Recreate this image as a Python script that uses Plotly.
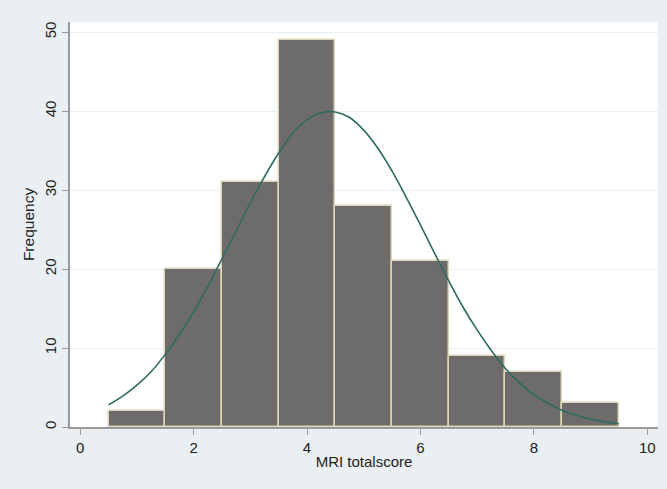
import plotly.graph_objects as go

# Histogram bins (centers) and frequencies
bin_centers = [1, 2, 3, 4, 5, 6, 7, 8, 9]
frequencies = [2, 20, 31, 49, 28, 21, 9, 7, 3]

# Normal density overlay
curve_x = [0.5, 0.75, 1.0, 1.25, 1.5, 1.75, 2.0, 2.25, 2.5, 2.75, 3.0, 3.25, 3.5, 3.75,
           4.0, 4.25, 4.5, 4.75, 5.0, 5.25, 5.5, 5.75, 6.0, 6.25, 6.5, 6.75, 7.0, 7.25,
           7.5, 7.75, 8.0, 8.25, 8.5, 8.75, 9.0, 9.25, 9.5]
curve_y = [2.8, 3.9, 5.3, 7.0, 9.2, 11.7, 14.6, 17.8, 21.3, 24.8, 28.4, 31.7, 34.7, 37.2,
           38.9, 39.8, 39.9, 39.2, 37.6, 35.3, 32.4, 29.1, 25.6, 22.0, 18.5, 15.2, 12.3, 9.7,
           7.4, 5.6, 4.1, 3.0, 2.1, 1.5, 1.0, 0.65, 0.42]

x_ticks = [0, 2, 4, 6, 8, 10]
y_ticks = [0, 10, 20, 30, 40, 50]

fig = go.Figure()
fig.add_trace(go.Bar(
    x=bin_centers, y=frequencies, width=1,
    marker=dict(color="#6d6c6a", line=dict(color="#ddd6b8", width=1.5)),
    showlegend=False,
))
fig.add_trace(go.Scatter(
    x=curve_x, y=curve_y, mode="lines",
    line=dict(color="#2e6b62", width=1.6, shape="spline"),
    showlegend=False,
))

axis_common = dict(
    showline=True, linecolor="#9a9a9a", linewidth=1.5,
    ticks="outside", ticklen=6, tickcolor="#9a9a9a", tickwidth=1.2,
    zeroline=False, tickfont=dict(size=15, color="#222"),
)

fig.update_layout(
    width=667, height=489,
    margin=dict(l=70, r=9, t=22, b=62),
    paper_bgcolor="#e9eff2",
    plot_bgcolor="white",
    font=dict(family="Arial, Liberation Sans, sans-serif", size=15, color="#222"),
    bargap=0,
    xaxis=dict(range=[-0.18, 10.19], tickvals=x_ticks, showgrid=False,
               title=dict(text="MRI totalscore", standoff=2, font=dict(size=15)),
               **axis_common),
    yaxis=dict(range=[0, 51.3], tickvals=y_ticks, tickangle=-90,
               showgrid=True, gridcolor="#eceff0", gridwidth=1,
               title=dict(text="Frequency", standoff=4, font=dict(size=15.5)),
               **axis_common),
)

fig.write_html("out.html")
